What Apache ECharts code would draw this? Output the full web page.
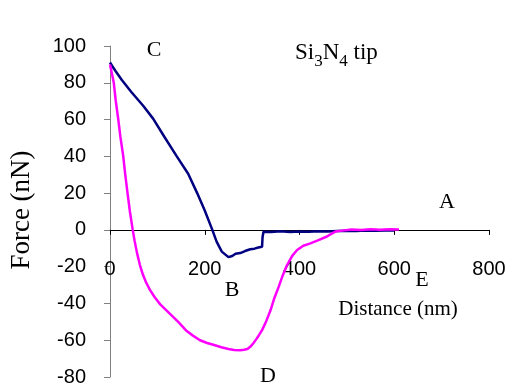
<!DOCTYPE html>
<html>
<head>
<meta charset="utf-8">
<script src="https://cdn.jsdelivr.net/npm/echarts@6/dist/echarts.min.js"></script>
<style>
html,body{margin:0;padding:0;background:#fff;}
#chart{width:512px;height:390px;}
</style>
</head>
<body>
<div id="chart"></div>
<script>
// Data
var xTicks = [0, 200, 400, 600, 800];
var yTicks = [-80, -60, -40, -20, 0, 20, 40, 60, 80, 100];

var navyX = [0,5,12,25,45,70,91,115,141,165,184,200,216,225,236,250,258,265,275,285,296,305,313,321,322,324,340,360,380,400,420,440,460,480,500,520,540,560,580,600];
var navyY = [91,89,86.3,81.5,75,67.5,60.5,50.5,40,30.5,20,10.5,0,-6.4,-11.8,-14.8,-14.2,-13,-12.6,-11.5,-10.5,-10.2,-9.6,-9.2,-4,-1,-1.2,-0.8,-1.1,-0.9,-1,-0.7,-0.9,-0.6,-0.5,-0.6,-0.4,-0.5,-0.3,-0.4];

var magX = [0,4,8,12,17,22,28,32,37,42,48,52,57,63,69,76,84,94,106,124,144,162,175,190,205,218,235,250,262,275,283,290,296,303,310,315,321,330,339,347,356,365,374,385,395,408,423,440,458,467,476,490,510,530,550,570,590,610];
var magY = [90,85,80,70.5,61,50.5,40,30.5,20,10,0,-6,-12.5,-19,-24,-28.5,-32.5,-36.5,-40.5,-45,-50,-55,-57.5,-60,-61.5,-62.5,-63.8,-64.8,-65.3,-65.4,-65.2,-64.8,-63.6,-61.5,-59,-57,-54.5,-49.5,-43.6,-37,-31,-24.5,-19,-14,-10.9,-8.6,-7.3,-5.6,-3.6,-2.2,-0.9,-0.4,0.2,-0.1,0.3,0.1,0.4,0.2];

var pointLabels = ['A', 'B', 'C', 'D', 'E'];

function zip(xs, ys) { return xs.map(function (x, i) { return [x, ys[i]]; }); }

var chart = echarts.init(document.getElementById('chart'));
var serif = '"Liberation Serif", "Times New Roman", serif';
var sans = '"Liberation Sans", Arial, sans-serif';

function letter(t, x, y) {
  return { type: 'text', x: x, y: y, style: { text: t, font: '22px ' + serif, fill: '#000', align: 'center', verticalAlign: 'middle' } };
}

var gridTop = 46, gridBottom = 13, H = 390;
var plotH = H - gridTop - gridBottom;
var yMin = yTicks[0], yMax = yTicks[yTicks.length - 1];
// distance from grid bottom to the zero line, so the x axis sits at y = 0
var zeroOffset = plotH * (0 - yMin) / (yMax - yMin);

chart.setOption({
  animation: false,
  backgroundColor: '#fff',
  grid: { left: 110, right: 23, top: gridTop, bottom: gridBottom, containLabel: false, outerBoundsMode: 'none' },
  xAxis: {
    type: 'value', min: xTicks[0], max: xTicks[xTicks.length - 1], interval: 200,
    offset: -zeroOffset,
    axisLine: { onZero: false, lineStyle: { color: '#000', width: 1 } },
    axisTick: { show: true, inside: false, length: 5, lineStyle: { color: '#000' } },
    axisLabel: { margin: 30, fontSize: 20, fontFamily: sans, color: '#000' },
    splitLine: { show: false }
  },
  yAxis: {
    type: 'value', min: yMin, max: yMax, interval: 20,
    axisLine: { show: true, onZero: false, lineStyle: { color: '#808080', width: 1 } },
    axisTick: { show: true, length: 6, lineStyle: { color: '#808080' } },
    axisLabel: { margin: 24, fontSize: 20, fontFamily: sans, color: '#000' },
    splitLine: { show: false }
  },
  series: [
    { type: 'line', data: zip(navyX, navyY), showSymbol: false, lineStyle: { color: '#000080', width: 2.5 }, itemStyle: { color: '#000080' } },
    { type: 'line', data: zip(magX, magY), showSymbol: false, lineStyle: { color: '#ff00ff', width: 2.5 }, itemStyle: { color: '#ff00ff' } }
  ],
  graphic: [
    { type: 'text', x: 22, y: 210, rotation: Math.PI / 2, style: { text: 'Force (nN)', font: '27px ' + serif, fill: '#000', align: 'center', verticalAlign: 'middle' } },
    { type: 'text', x: 398, y: 309, style: { text: 'Distance (nm)', font: '21px ' + serif, fill: '#000', align: 'center', verticalAlign: 'middle' } },
    { type: 'text', x: 295, y: 53, style: {
        text: '{a|Si}{s|3}{a|N}{s|4}{a| tip}',
        verticalAlign: 'middle',
        rich: {
          a: { font: '23px ' + serif, fill: '#000', color: '#000', verticalAlign: 'bottom' },
          s: { font: '17px ' + serif, fill: '#000', color: '#000', verticalAlign: 'bottom', padding: [0, 0, -6, 0] }
        }
      } },
    letter(pointLabels[0], 447, 202),
    letter(pointLabels[1], 232, 290),
    letter(pointLabels[2], 154, 50),
    letter(pointLabels[3], 268, 376),
    letter(pointLabels[4], 422, 280)
  ]
});
</script>
</body>
</html>
